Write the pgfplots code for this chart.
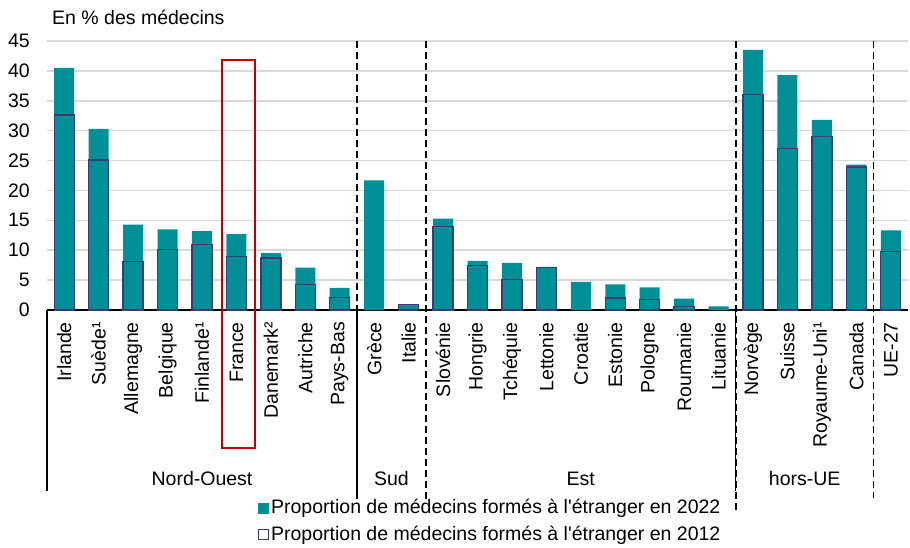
\documentclass[border=0pt]{standalone}
\usepackage{pgfplots}
\pgfplotsset{compat=1.18}
\usepackage{fontspec}
\setmainfont{Liberation Sans}[Ligatures=TeXOff]
\definecolor{teal22}{RGB}{0,143,150}
\definecolor{navy12}{RGB}{58,60,120}
\definecolor{redbox}{RGB}{192,0,0}
\definecolor{gridgray}{RGB}{217,217,217}
\begin{document}
\fontsize{19.5bp}{23bp}\selectfont
\begin{tikzpicture}
\useasboundingbox (-47bp,-238bp) rectangle (863bp,310bp);
\begin{axis}[
  at={(0,0)}, anchor=south west,
  scale only axis, width=861bp, height=269bp,
  xmin=-0.5, xmax=24.5, ymin=0, ymax=45,
  axis x line*=bottom, axis y line*=left,
  y axis line style={draw=none},
  x axis line style={black, line width=1.3bp},
  xtick={0,...,24},
  xticklabels={Irlande,Suède¹,Allemagne,Belgique,Finlande¹,France,Danemark²,Autriche,Pays-Bas,Grèce,Italie,Slovénie,Hongrie,Tchéquie,Lettonie,Croatie,Estonie,Pologne,Roumanie,Lituanie,Norvège,Suisse,Royaume-Uni¹,Canada,UE-27},
  ytick={0,5,...,45},
  major tick length=0pt,
  ymajorgrids, grid style={gridgray, line width=1.5bp},
  xticklabel shift=12bp, yticklabel shift=17bp,
  xticklabel style={rotate=90, anchor=east, inner sep=0pt},
  yticklabel style={anchor=east, inner sep=0pt},
  /pgf/number format/assume math mode=true,
  clip=false,
  legend style={at={(0.245,-0.70)}, anchor=north west, draw=none, fill=none,
    inner sep=0pt, row sep=7bp, cells={anchor=west},
    nodes={inner xsep=2bp, inner ysep=1bp}},
]
\addplot[ybar, bar width=20bp, bar shift=0pt, fill=teal22, draw=none,
  legend image code/.code={\fill[teal22] (0bp,-5.5bp) rectangle (11bp,5.5bp);}]
  coordinates {(0,40.5) (1,30.3) (2,14.3) (3,13.5) (4,13.2) (5,12.7) (6,9.5) (7,7.1) (8,3.7)
  (9,21.7) (10,0.95)
  (11,15.3) (12,8.2) (13,7.9) (14,7.2) (15,4.7) (16,4.3) (17,3.8) (18,1.9) (19,0.6)
  (20,43.5) (21,39.3) (22,31.8) (23,24.3) (24,13.3)};
\addlegendentry{Proportion de médecins formés à l'étranger en 2022}
\addplot[ybar, bar width=20bp, bar shift=0pt, fill=none, draw=navy12, line width=1.3bp,
  legend image code/.code={\draw[navy12, line width=1.2bp] (0.6bp,-4.9bp) rectangle (10.4bp,4.9bp);}]
  coordinates {(0,32.6) (1,25.1) (2,8.1) (3,10.1) (4,11.0) (5,8.9) (6,8.7) (7,4.3) (8,2.1)
  (10,0.9)
  (11,14.0) (12,7.4) (13,5.1) (14,7.1) (16,2.0) (17,1.7) (18,0.6)
  (20,36.0) (21,27.0) (22,29.0) (23,23.9) (24,9.8)};
\addlegendentry{Proportion de médecins formés à l'étranger en 2012}
% group frame lines
\draw[black, line width=1.3bp] (axis cs:-0.5,0) -- (axis cs:-0.5,-30.2);
\draw[black, line width=1.3bp] (axis cs:8.5,0) -- (axis cs:8.5,-30.7);
\draw[black, line width=1.3bp] (axis cs:19.5,0) -- (axis cs:19.5,-30.2);
% dashed separators
\draw[black, line width=1.8bp, dash pattern=on 7bp off 4bp] (axis cs:8.5,45) -- (axis cs:8.5,-32.3);
\draw[black, line width=1.8bp, dash pattern=on 7bp off 4bp] (axis cs:10.5,45) -- (axis cs:10.5,-32.3);
\draw[black, line width=1.8bp, dash pattern=on 7bp off 4bp] (axis cs:19.5,45) -- (axis cs:19.5,-33.6);
\draw[black, line width=1.8bp, dash pattern=on 7bp off 4bp] (axis cs:23.5,45) -- (axis cs:23.5,-31.4);
% France highlight
\draw[redbox, line width=1.8bp] (axis cs:4.58,41.76) rectangle (axis cs:5.54,-23.1);
% group labels
\node at (axis cs:4,-28.2) {Nord-Ouest};
\node at (axis cs:9.5,-28.2) {Sud};
\node at (axis cs:15,-28.2) {Est};
\node at (axis cs:21.5,-28.2) {hors-UE};
% title
\node[anchor=west, inner sep=0pt] at (axis cs:-0.355,49.0) {En \% des médecins};
\end{axis}
\end{tikzpicture}
\end{document}
